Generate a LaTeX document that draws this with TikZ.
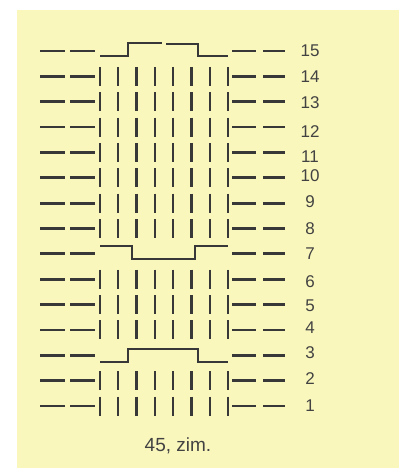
\documentclass[tikz,border=0pt]{standalone}
\usepackage{fontspec}
\setmainfont{Liberation Sans}
\definecolor{paper}{HTML}{FAF7BC}
\definecolor{ink}{HTML}{383838}
\definecolor{numink}{HTML}{424242}
\begin{document}
\begin{tikzpicture}[x=1pt,y=-1pt,
  dashmark/.style={draw=ink,line width=2.8pt},
  barmark/.style={draw=ink,line width=2.3pt},
  stepline/.style={draw=ink,line width=2pt,line join=miter},
  rownum/.style={text=numink,font=\fontsize{17}{17}\selectfont,inner sep=0pt,anchor=center},
  caption/.style={text=numink,font=\fontsize{19}{19}\selectfont,inner sep=0pt,anchor=center}]
\useasboundingbox (0,0) rectangle (399,468);
\fill[white] (0,0) rectangle (399,468);
\fill[paper] (17,10) rectangle (399,468);
% left and right dashes on every row
\foreach \k in {1,...,15}{
  \pgfmathsetmacro{\y}{51+(15-\k)*25.36}
  \draw[dashmark] (40,\y) -- (65,\y);
  \draw[dashmark] (70,\y) -- (95,\y);
  \draw[dashmark] (232,\y) -- (256,\y);
  \draw[dashmark] (263,\y) -- (285,\y);
}
% vertical bars (knit stitches)
\foreach \k in {1,2,4,5,6,8,9,10,11,12,13,14}{
  \pgfmathsetmacro{\y}{51+(15-\k)*25.36}
  \foreach \i in {0,...,7}{
    \pgfmathsetmacro{\x}{100+\i*18.3}
    \draw[barmark] (\x,\y-9.5) -- (\x,\y+9.5);
  }
}
% row 15 step
\pgfmathsetmacro{\ya}{51}
\draw[stepline] (100,\ya+5) -- (128,\ya+5) -- (128,\ya-8) -- (162,\ya-8);
\draw[stepline] (166,\ya-7) -- (198,\ya-7) -- (198,\ya+5) -- (228,\ya+5);
% row 7 step (inverted)
\pgfmathsetmacro{\yb}{51+8*25.36}
\draw[stepline] (100,\yb-8) -- (132,\yb-8) -- (132,\yb+5) -- (195,\yb+5) -- (195,\yb-8) -- (228,\yb-8);
% row 3 step
\pgfmathsetmacro{\yc}{51+12*25.36}
\draw[stepline] (100,\yc+7) -- (128,\yc+7) -- (128,\yc-6) -- (198,\yc-6) -- (198,\yc+7) -- (228,\yc+7);
% row numbers
\foreach \k/\off in {15/0,14/0,13/1,12/4,11/4,10/-2,9/-2,8/0,7/0,6/2,5/1,4/-2,3/-3,2/-2,1/0}{
  \pgfmathsetmacro{\y}{51+(15-\k)*25.36+\off}
  \node[rownum] (n\k) at (310,\y) {\k};
}
\node[caption] (cap) at (178,446) {45, zim.};
\end{tikzpicture}
\end{document}
